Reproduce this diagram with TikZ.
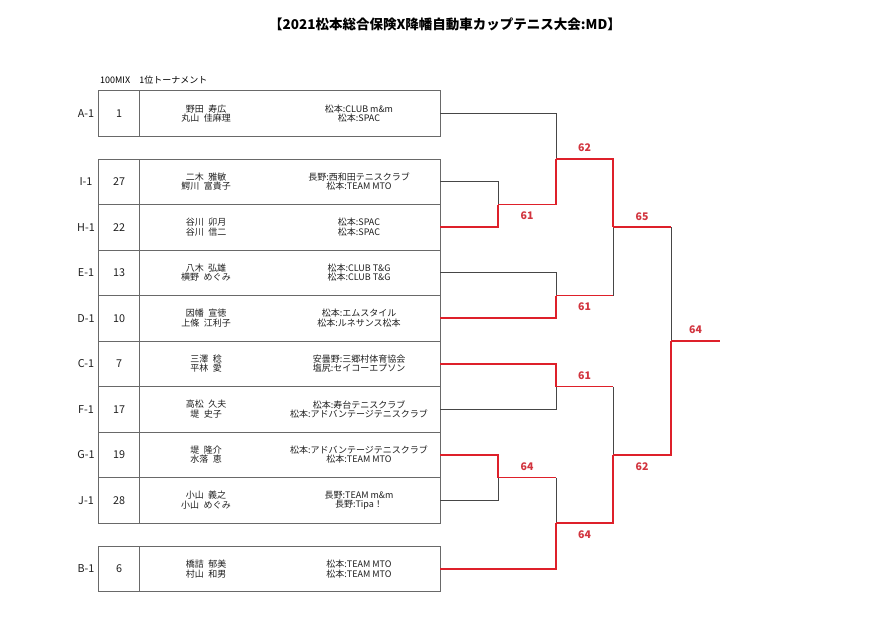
\documentclass[tikz,border=0pt]{standalone}
\usepackage{fontspec}
\setmainfont{Noto Sans CJK JP}
\usepackage{xcolor}
\usetikzlibrary{calc,positioning}

\definecolor{winred}{RGB}{222,32,42}
\definecolor{scorered}{RGB}{210,52,62}
\definecolor{framegray}{RGB}{105,105,105}
\definecolor{linegray}{RGB}{70,70,70}

\tikzset{
  rowbox/.style={draw=framegray,line width=1pt,minimum width=342pt,minimum height=45.5pt,inner sep=0pt,outer sep=0pt},
  frame/.style={draw=framegray,line width=1pt},
  cell/.style={align=center,inner sep=0pt,text=black!88,font=\fontsize{9}{9.4}\selectfont},
  seedlbl/.style={inner sep=0pt,text=black!88,font=\fontsize{10.8}{12}\selectfont},
  lose/.style={draw=linegray,line width=0.8pt},
  win/.style={draw=winred,line width=1.8pt},
  score/.style={inner sep=0pt,text=scorered,font=\fontsize{10.5}{11}\selectfont\bfseries}
}

\begin{document}
\begin{tikzpicture}[x=1pt,y=-1pt]
\useasboundingbox[fill=white] (0,0) rectangle (890,629);

\node[font=\fontsize{13.5}{16}\selectfont\bfseries] (title) at (445,24) {【2021松本総合保険X降幡自動車カップテニス大会:MD】};
\node[anchor=west,inner sep=0pt,font=\fontsize{9}{10}\selectfont] (event) at (100,80) {100MIX　1位トーナメント};

% entry rows
\foreach \id/\y/\code/\seed/\pa/\pb/\ca/\cb in {
  A/113.5/A-1/1/野田\enspace 寿広/丸山\enspace 佳麻理/松本:CLUB m\&m/松本:SPAC,
  I/181.75/I-1/27/二木\enspace 雅敏/鰐川\enspace 富貴子/長野:西和田テニスクラブ/松本:TEAM MTO,
  H/227.25/H-1/22/谷川\enspace 卯月/谷川\enspace 信二/松本:SPAC/松本:SPAC,
  E/272.75/E-1/13/八木\enspace 弘雄/横野\enspace めぐみ/松本:CLUB T\&G/松本:CLUB T\&G,
  D/318.25/D-1/10/因幡\enspace 宣徳/上條\enspace 江利子/松本:エムスタイル/松本:ルネサンス松本,
  C/363.75/C-1/7/三澤\enspace 稔/平林\enspace 愛/安曇野:三郷村体育協会/塩尻:セイコーエプソン,
  F/409.25/F-1/17/高松\enspace 久夫/堤\enspace 史子/松本:寿台テニスクラブ/松本:アドバンテージテニスクラブ,
  G/454.75/G-1/19/堤\enspace 隆介/水落\enspace 恵/松本:アドバンテージテニスクラブ/松本:TEAM MTO,
  J/500.25/J-1/28/小山\enspace 義之/小山\enspace めぐみ/長野:TEAM m\&m/長野:Tipa！,
  B/569/B-1/6/橋詰\enspace 郁美/村山\enspace 和男/松本:TEAM MTO/松本:TEAM MTO}
{
  \node[rowbox] (box\id) at (269,\y) {};
  \draw[frame] (box\id.north west) ++(41,0) -- ++(0,45.5);
  \node[seedlbl] (code\id) at (86,\y) {\code};
  \node[seedlbl] (seed\id) at (119,\y) {\seed};
  \node[cell] (pair\id) at (206,\y) {\pa\\\pb};
  \node[cell] (club\id) at (359,\y) {\ca\\\cb};
  \coordinate (\id) at (box\id.east);
}

% match points
\coordinate (m1) at (498,204.5);
\coordinate (m2) at (556,159);
\coordinate (m3) at (556,295.5);
\coordinate (m4) at (613,227.25);
\coordinate (m5) at (556,386.5);
\coordinate (m6) at (498,477.5);
\coordinate (m7) at (556,523.25);
\coordinate (m8) at (613,454.9);
\coordinate (m9) at (671,341);
\coordinate (champ) at (720,341);

% losing paths
\draw[lose] (I) -| (m1);
\draw[lose] (A) -| (m2);
\draw[lose] (E) -| (m3);
\draw[lose] (F) -| (m5);
\draw[lose] (J) -| (m6);
\draw[lose] (m3 -| m4) -- (m4);
\draw[lose] (m5 -| m8) -- (m8);
\draw[lose] (m6 -| m7) -- (m7);
\draw[lose] (m4 -| m9) -- (m9);

% winning paths
\draw[win] (H) -| (m1);
\draw[win] (m1) -| (m2) node[score,pos=0.25,yshift=-11.5pt] (s1) {61};
\draw[win] (D) -| (m3);
\draw[win] (m3) -- (m3 -| m4) node[score,midway,yshift=-11.5pt] (s2) {61};
\draw[win] (m2) -| (m4) node[score,pos=0.25,yshift=11pt] (s3) {62};
\draw[win] (C) -| (m5);
\draw[win] (m5) -- (m5 -| m8) node[score,midway,yshift=11pt] (s4) {61};
\draw[win] (G) -| (m6);
\draw[win] (m6) -- (m6 -| m7) node[score,midway,yshift=11pt] (s5) {64};
\draw[win] (B) -| (m7);
\draw[win] (m7) -| (m8) node[score,pos=0.25,yshift=-11.5pt] (s6) {64};
\draw[win] (m4) -- (m4 -| m9) node[score,midway,yshift=11pt] (s7) {65};
\draw[win] (m8) -| (m9) node[score,pos=0.25,yshift=-11.5pt] (s8) {62};
\draw[win] (m9) -- (champ) node[score,midway,yshift=11pt] (s9) {64};
\end{tikzpicture}
\end{document}
